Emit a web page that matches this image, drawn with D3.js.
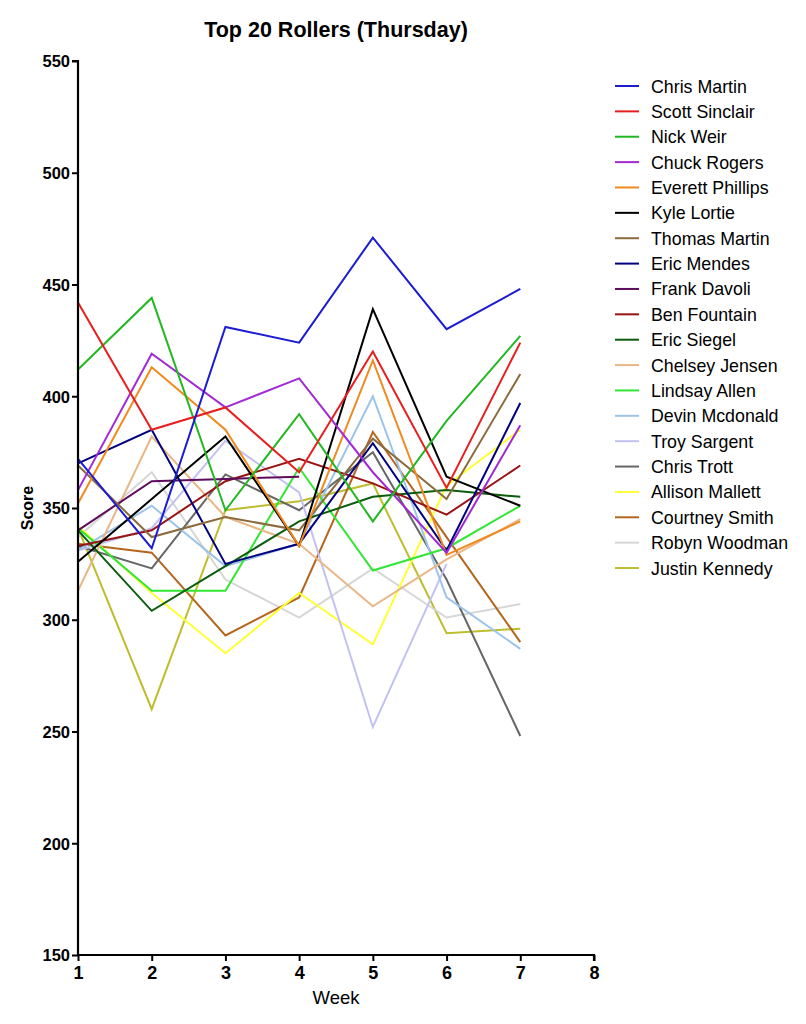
<!DOCTYPE html>
<html>
<head>
<meta charset="utf-8">
<script src="https://cdn.jsdelivr.net/npm/d3@7"></script>
<style>
  html, body { margin: 0; padding: 0; background: #fff; }
  svg { display: block; }
</style>
</head>
<body>
<svg id="chart" width="806" height="1024"></svg>
<script>
const weeks = [1, 2, 3, 4, 5, 6, 7];
const xTicks = [1, 2, 3, 4, 5, 6, 7, 8];
const yTicks = [150, 200, 250, 300, 350, 400, 450, 500, 550];

const names = [
  "Chris Martin", "Scott Sinclair", "Nick Weir", "Chuck Rogers", "Everett Phillips",
  "Kyle Lortie", "Thomas Martin", "Eric Mendes", "Frank Davoli", "Ben Fountain",
  "Eric Siegel", "Chelsey Jensen", "Lindsay Allen", "Devin Mcdonald", "Troy Sargent",
  "Chris Trott", "Allison Mallett", "Courtney Smith", "Robyn Woodman", "Justin Kennedy"
];

const chrisMartin    = [372, 332, 431, 424, 471, 430, 448];
const scottSinclair  = [442, 385, 395, 366, 420, 359, 424];
const nickWeir       = [412, 444, 349, 392, 344, 389, 427];
const chuckRogers    = [358, 419, 395, 408, 366, 330, 387];
const everettPhillips= [352, 413, 385, 333, 416, 329, 344];
const kyleLortie     = [326, 354, 382, 333, 439, 364, 351];
const thomasMartin   = [369, 337, 346, 340, 381, 354, 410];
const ericMendes     = [370, 385, 325, 334, 379, 331, 397];
const frankDavoli    = [340, 362, 363, 364];
const benFountain    = [333, 340, 362, 372, 361, 347, 369];
const ericSiegel     = [340, 304, 324, 344, 355, 358, 355];
const chelseyJensen  = [313, 382, 346, 334, 306, 327, 345];
const lindsayAllen   = [341, 313, 313, 368, 322, 332, 351];
const devinMcdonald  = [331, 351, 324, 334, 400, 310, 287];
const troySargent    = [331, 341, 380, 357, 252, 325];
const chrisTrott     = [333, 323, 365, 349, 375, 318, 248];
const allisonMallett = [342, 312, 285, 312, 289, 360, 385];
const courtneySmith  = [334, 330, 293, 310, 384, 337, 290];
const robynWoodman   = [337, 366, 318, 301, 323, 301, 307];
const justinKennedy  = [341, 260, 349, 353, 361, 294, 296];

const seriesValues = [
  chrisMartin, scottSinclair, nickWeir, chuckRogers, everettPhillips,
  kyleLortie, thomasMartin, ericMendes, frankDavoli, benFountain,
  ericSiegel, chelseyJensen, lindsayAllen, devinMcdonald, troySargent,
  chrisTrott, allisonMallett, courtneySmith, robynWoodman, justinKennedy
];

const colors = [
  "#1c1cd2", "#e81e1e", "#22b822", "#a12ad4", "#f08a1e",
  "#000000", "#8b6b3e", "#000080", "#5e0c5e", "#981414",
  "#0b5c0b", "#e9b685", "#33e633", "#9cc4ea", "#c2c2f2",
  "#666666", "#ffff33", "#b5661e", "#d6d6d6", "#bdbd2e"
];

const svg = d3.select("#chart");
const plotLeft = 78, plotRight = 594, plotTop = 61, plotBottom = 955;

const x = d3.scaleLinear().domain([1, 8]).range([plotLeft, plotRight]);
const y = d3.scaleLinear().domain([150, 550]).range([plotBottom, plotTop]);

const font = "'Liberation Sans', Arial, sans-serif";

// Lines (draw in reverse so earlier series are on top)
const line = d3.line().x((d, i) => x(weeks[i])).y(d => y(d));
const order = d3.range(names.length).reverse();
svg.append("g").selectAll("path")
  .data(order)
  .join("path")
  .attr("d", i => line(seriesValues[i]))
  .attr("fill", "none")
  .attr("stroke", i => colors[i])
  .attr("stroke-width", 2)
  .attr("stroke-linejoin", "miter");

// Axes
const yAxis = d3.axisLeft(y).tickValues(yTicks).tickFormat(d3.format("d")).tickSize(6).tickPadding(2);
const gy = svg.append("g").attr("transform", `translate(${plotLeft},0)`).call(yAxis);
const xAxis = d3.axisBottom(x).tickValues(xTicks).tickFormat(d3.format("d")).tickSize(6).tickPadding(5);
const gx = svg.append("g").attr("transform", `translate(0,${plotBottom})`).call(xAxis);

[gy, gx].forEach(g => {
  g.select(".domain").attr("stroke", "#000").attr("stroke-width", 2.2);
  g.selectAll(".tick line").attr("stroke", "#000").attr("stroke-width", 2);
  g.selectAll(".tick text")
    .attr("fill", "#000")
    .style("font-family", font)
    .style("font-weight", "bold")
    .style("font-size", "16.5px");
});
gy.selectAll(".tick text").attr("dy", "0.36em");
gx.selectAll(".tick text").style("font-size", "18px");
gy.select(".domain").attr("d", `M-6,${plotTop}H0V${plotBottom}`);
gx.select(".domain").attr("d", `M${plotLeft},0H${plotRight}V6`);

// Title
svg.append("text")
  .attr("x", 336).attr("y", 37)
  .attr("text-anchor", "middle")
  .style("font-family", font)
  .style("font-weight", "bold")
  .style("font-size", "21.5px")
  .text("Top 20 Rollers (Thursday)");

// Axis titles
svg.append("text")
  .attr("x", 336).attr("y", 1004)
  .attr("text-anchor", "middle")
  .style("font-family", font)
  .style("font-size", "18.5px")
  .text("Week");

svg.append("text")
  .attr("transform", `translate(33,508) rotate(-90)`)
  .attr("text-anchor", "middle")
  .style("font-family", font)
  .style("font-weight", "bold")
  .style("font-size", "16px")
  .text("Score");

// Legend
const legend = svg.append("g");
const items = legend.selectAll("g")
  .data(names)
  .join("g")
  .attr("transform", (d, i) => `translate(615,${86 + i * 25.37})`);
items.append("line")
  .attr("x1", 0).attr("x2", 24)
  .attr("stroke", (d, i) => colors[i])
  .attr("stroke-width", 2);
items.append("text")
  .attr("x", 36).attr("y", 6.5)
  .style("font-family", font)
  .style("font-size", "17.8px")
  .text(d => d);
</script>
</body>
</html>
